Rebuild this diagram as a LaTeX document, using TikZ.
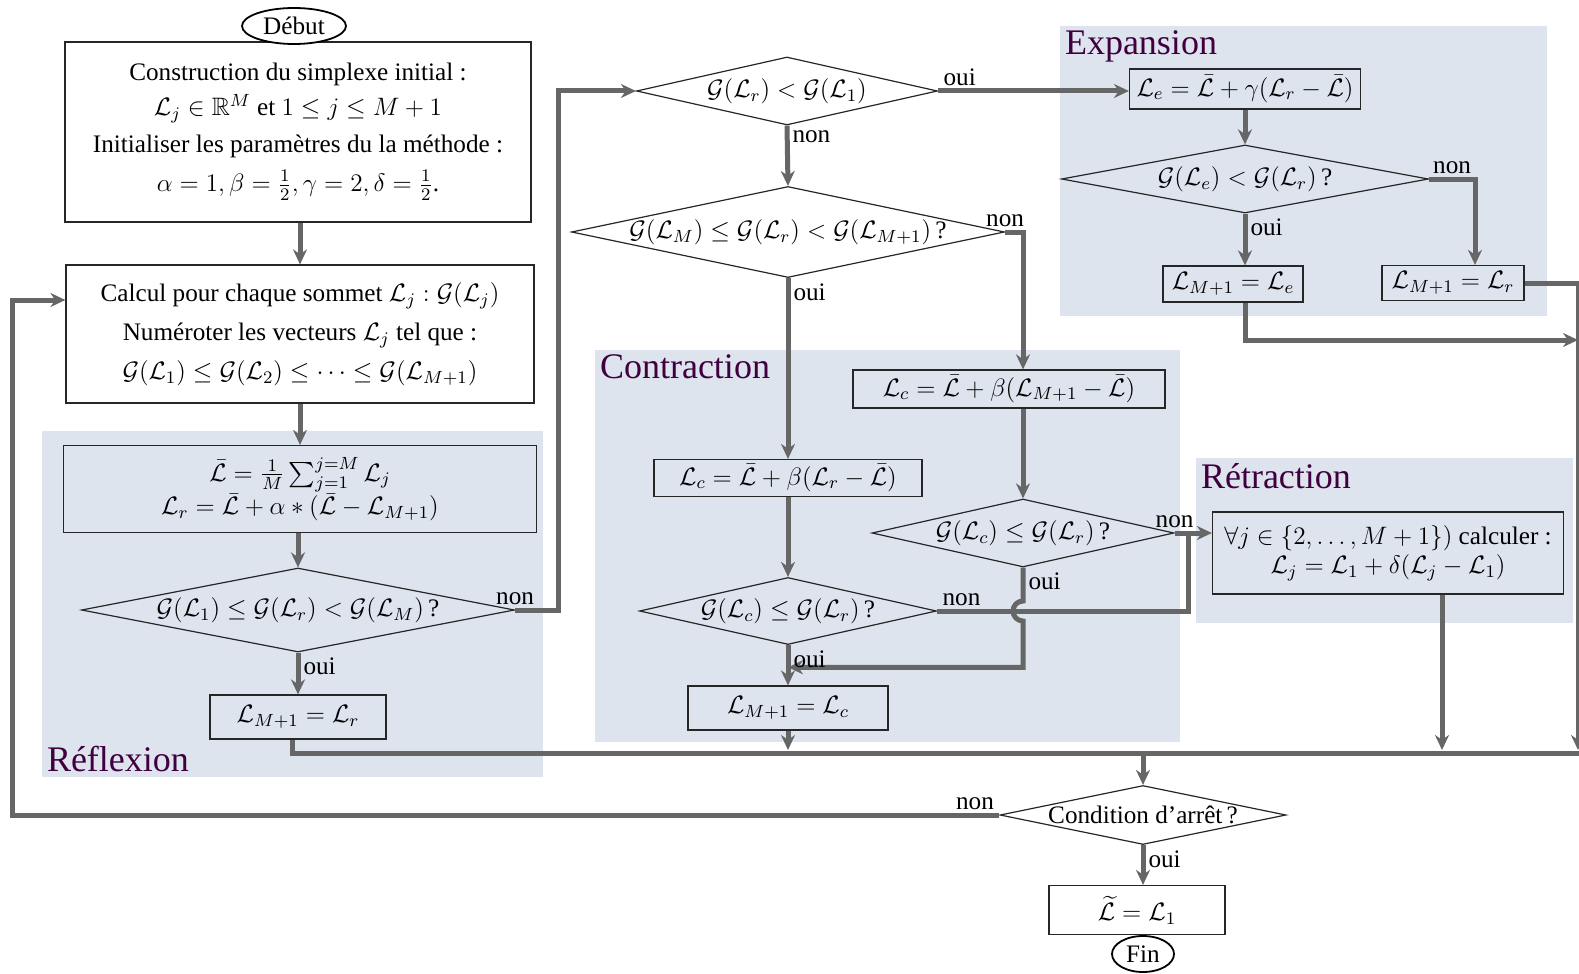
\RequirePackage{fix-cm}
\documentclass[tikz,border=0pt]{standalone}
\usepackage{amsmath,amssymb}
\usepackage{fontspec}
\setmainfont{Liberation Serif}
\usepackage{tikz}
\usetikzlibrary{arrows.meta,positioning,fit,calc,shapes.geometric}

\definecolor{zonebg}{RGB}{221,228,238}
\definecolor{zonetxt}{RGB}{64,0,64}
\definecolor{flow}{RGB}{102,102,102}

\begin{document}
\begin{tikzpicture}[
  x=0.5pt, y=-0.5pt,
  font=\fontsize{12.6pt}{14.5pt}\selectfont,
  >=Stealth,
  % zones
  zone/.style={fill=zonebg, draw=none, inner sep=0pt},
  ztitle/.style={text=zonetxt, font=\fontsize{18pt}{21pt}\selectfont, inner sep=2.5pt},
  % boxes
  box/.style={draw=black!85, line width=0.6pt, align=center, inner sep=2pt},
  dec/.style={diamond, draw=black!85, line width=0.6pt, aspect=4,
              inner xsep=-30pt, inner ysep=0pt},
  term/.style={ellipse, draw=black, line width=0.9pt, fill=white, inner sep=0pt},
  % connectors
  flw/.style={draw=flow, line width=2.5pt, -{Stealth[length=7.5pt,width=7pt]}},
  lnk/.style={draw=flow, line width=2.5pt},
  ans/.style={inner sep=1.5pt},
]
\useasboundingbox (0,0) rectangle (1579,974);

% ── Zones ────────────────────────────────────────────────────────────────
\node[zone, fit={(42,431) (543,777)}]    (zR) {};
\node[zone, fit={(1060,26) (1547,316)}]  (zE) {};
\node[zone, fit={(595,350) (1180,742)}]  (zC) {};
\node[zone, fit={(1196,458) (1573,623)}] (zT) {};
\node[ztitle, anchor=south west] (tR) at (zR.south west) {Réflexion};
\node[ztitle, anchor=north west] (tE) at (zE.north west) {Expansion};
\node[ztitle, anchor=north west] (tC) at (zC.north west) {Contraction};
\node[ztitle, anchor=north west] (tT) at (zT.north west) {Rétraction};

% ── Initialisation ───────────────────────────────────────────────────────
\node[box, minimum width=233pt, minimum height=90pt] (init) at (298,132)
  {Construction du simplexe initial :\\[3pt]
   $\mathcal{L}_j\in\mathbb{R}^M$ et $1\leq j\leq M+1$\\[4pt]
   Initialiser les paramètres du la méthode :\\[5pt]
   $\alpha=1,\beta=\frac{1}{2},\gamma=2,\delta=\frac{1}{2}$.};
\node[term, minimum width=52pt, minimum height=18pt] (debut) at (294,26) {Début};

\node[box, minimum width=234pt, minimum height=69pt] (calc) at (300,334)
  {Calcul pour chaque sommet $\mathcal{L}_j:\mathcal{G}(\mathcal{L}_j)$\\[5pt]
   Numéroter les vecteurs $\mathcal{L}_j$ tel que :\\[5pt]
   $\mathcal{G}(\mathcal{L}_1)\leq\mathcal{G}(\mathcal{L}_2)\leq\cdots\leq\mathcal{G}(\mathcal{L}_{M+1})$};

% ── Réflexion ────────────────────────────────────────────────────────────
\node[box, minimum width=236.5pt, minimum height=43.5pt] (lbar) at (300,489)
  {$\bar{\mathcal{L}}=\frac{1}{M}\sum_{j=1}^{j=M}\mathcal{L}_j$\\[0pt]
   $\mathcal{L}_r=\bar{\mathcal{L}}+\alpha*(\bar{\mathcal{L}}-\mathcal{L}_{M+1})$};
\node[dec, minimum width=216.5pt, minimum height=42pt] (dR) at (298,610)
  {$\mathcal{G}(\mathcal{L}_1)\leq\mathcal{G}(\mathcal{L}_r)<\mathcal{G}(\mathcal{L}_M)$\,?};
\node[box, minimum width=88pt, minimum height=22pt] (lmr) at (298,717)
  {$\mathcal{L}_{M+1}=\mathcal{L}_r$};

% ── Tests on L_r ─────────────────────────────────────────────────────────
\node[dec, minimum width=150.5pt, minimum height=34pt] (d1) at (787,91)
  {$\mathcal{G}(\mathcal{L}_r)<\mathcal{G}(\mathcal{L}_1)$};
\node[dec, minimum width=216.5pt, minimum height=45.5pt] (d2) at (788,232)
  {$\mathcal{G}(\mathcal{L}_M)\leq\mathcal{G}(\mathcal{L}_r)<\mathcal{G}(\mathcal{L}_{M+1})$\,?};

% ── Contraction ──────────────────────────────────────────────────────────
\node[box, minimum width=156pt, minimum height=19pt] (lcr) at (1009,389)
  {$\mathcal{L}_c=\bar{\mathcal{L}}+\beta(\mathcal{L}_{M+1}-\bar{\mathcal{L}})$};
\node[box, minimum width=134pt, minimum height=18.5pt] (lcl) at (788,478)
  {$\mathcal{L}_c=\bar{\mathcal{L}}+\beta(\mathcal{L}_r-\bar{\mathcal{L}})$};
\node[dec, minimum width=151pt, minimum height=34pt] (dcr) at (1023,533)
  {$\mathcal{G}(\mathcal{L}_c)\leq\mathcal{G}(\mathcal{L}_r)$\,?};
\node[dec, minimum width=148.5pt, minimum height=33.5pt] (dcl) at (788,611)
  {$\mathcal{G}(\mathcal{L}_c)\leq\mathcal{G}(\mathcal{L}_r)$\,?};
\node[box, minimum width=100pt, minimum height=22pt] (lmc) at (788,708)
  {$\mathcal{L}_{M+1}=\mathcal{L}_c$};

% ── Expansion ────────────────────────────────────────────────────────────
\node[box, minimum width=115.5pt, minimum height=20pt] (le) at (1245,89)
  {$\mathcal{L}_e=\bar{\mathcal{L}}+\gamma(\mathcal{L}_r-\bar{\mathcal{L}})$};
\node[dec, minimum width=183.5pt, minimum height=34pt] (de) at (1245,179)
  {$\mathcal{G}(\mathcal{L}_e)<\mathcal{G}(\mathcal{L}_r)$\,?};
\node[box, minimum width=70pt, minimum height=18pt] (lme) at (1233,284)
  {$\mathcal{L}_{M+1}=\mathcal{L}_e$};
\node[box, minimum width=71pt, minimum height=17.5pt] (lmre) at (1453,283)
  {$\mathcal{L}_{M+1}=\mathcal{L}_r$};

% ── Rétraction ───────────────────────────────────────────────────────────
\node[box, minimum width=175.5pt, minimum height=41pt] (retr) at (1388,553)
  {$\forall j\in\{2,\ldots,M+1\})$ calculer :\\[0pt]
   $\mathcal{L}_j=\mathcal{L}_1+\delta(\mathcal{L}_j-\mathcal{L}_1)$};

% ── Arrêt ────────────────────────────────────────────────────────────────
\node[dec, minimum width=143pt, minimum height=29.5pt] (stop) at (1143,815)
  {Condition d’arrêt\,?};
\node[box, minimum width=88pt, minimum height=24.5pt] (lt) at (1137,910)
  {$\widetilde{\mathcal{L}}=\mathcal{L}_1$};
\node[term, minimum width=31pt, minimum height=18pt] (fin) at (1143,954) {Fin};

% ── Helper points ────────────────────────────────────────────────────────
\coordinate (busEnd) at (1579,753);
\coordinate (busE)   at (1578,750);
\coordinate (eE)     at (1578,340);
\coordinate (loopL)  at (12,815);
\coordinate (jR)     at (1188,533);
\coordinate (joinC)  at ($(dcl.south)!0.55!(lmc.north)$);
\coordinate (rOut)   at ($(retr.south)+(54,0)$);

% ── Connectors ───────────────────────────────────────────────────────────
\draw[flw] (init.south -| calc.north) -- (calc.north);
\draw[flw] (calc.south) -- (lbar.north);
\draw[flw] (lbar.south -| dR.north) -- (dR.north);
\draw[flw] (dR.south) -- node[ans, pos=0, below right] (oR) {oui} (lmr.north);
\draw[flw] (dR.east) -- node[ans, pos=0, above] (nR) {non} ++(43,0) |- (d1.west);
\draw[lnk] ($(lmr.south)+(-6,0)$) |- (busEnd);

\draw[flw] (d1.east) -- node[ans, pos=0, above right] (o1) {oui} (d1.east -| le.west);
\draw[flw] (d1.south) -- node[ans, pos=0, below right] (n1) {non} (d2.north);
\draw[flw] (d2.east) -| node[ans, pos=0, above] (n2) {non} (dcr.north |- lcr.north);
\draw[flw] (d2.south) -- node[ans, pos=0, below right] (o2) {oui} (d2.south |- lcl.north);

\draw[flw] (lcl.south) -- (dcl.north);
\draw[flw] (lcr.south -| dcr.north) -- (dcr.north);
\draw[flw] (dcr.east) -- node[ans, pos=0, above] (nCr) {non} (dcr.east -| retr.west);
\draw[lnk] (dcl.east) -- node[ans, pos=0, above right] (nCl) {non} (dcl.east -| jR) -- (jR);
\draw[flw] (dcr.south) -- node[ans, pos=0, below right] (oCr) {oui}
  ($(dcr.south |- dcl.east)+(0,-10)$) arc[start angle=90, end angle=270, radius=5pt]
  |- (joinC);
\draw[flw] (dcl.south) -- node[ans, pos=0, below right] (oCl) {oui} (lmc.north);
\draw[flw] (lmc.south) -- (lmc.south |- busE);

\draw[flw] (le.south -| de.north) -- (de.north);
\draw[flw] (de.south) -- node[ans, pos=0, below right] (oE) {oui} (de.south |- lme.north);
\draw[flw] (de.east) -| node[ans, pos=0.25, above] (nE) {non} ($(lmre.north)+(22,0)$);
\draw[flw] (de.south |- lme.south) |- (eE);
\draw[flw] (lmre.east) -| (busE);

\draw[flw] (rOut) -- (rOut |- busE);

\draw[flw] (stop.north |- busEnd) -- (stop.north);
\draw[flw] (stop.west) -- node[ans, pos=0, above left] (nS) {non} (stop.west -| loopL)
  |- ($(calc.west)+(0,-34)$);
\draw[flw] (stop.south) -- node[ans, pos=0, below right] (oS) {oui} (stop.south |- lt.north);

\end{tikzpicture}
\end{document}
